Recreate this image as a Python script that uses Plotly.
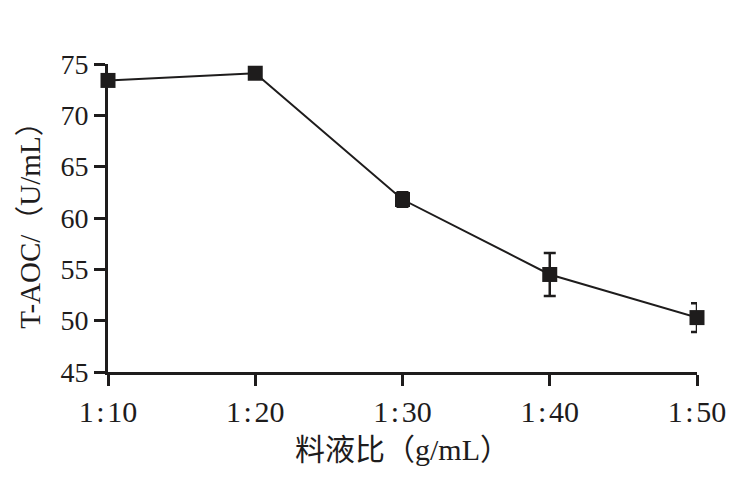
import plotly.graph_objects as go

ratios = [10, 20, 30, 40, 50]
tick_labels = ["1\u200a:\u200a10", "1\u200a:\u200a20", "1\u200a:\u200a30", "1\u200a:\u200a40", "1\u200a:\u200a50"]
taoc = [73.4, 74.1, 61.8, 54.5, 50.3]
err = [0.4, 0.3, 0.7, 2.1, 1.4]
y_ticks = [45, 50, 55, 60, 65, 70, 75]

ink = "#1e1c1c"
serif = "Liberation Serif"

fig = go.Figure()
fig.add_trace(go.Scatter(
    x=ratios, y=taoc,
    mode="lines+markers",
    line=dict(color=ink, width=2),
    marker=dict(symbol="square", size=15, color=ink),
    error_y=dict(type="data", array=err, visible=True, color=ink, thickness=2.5, width=6),
    cliponaxis=False,
    showlegend=False,
))

fig.update_layout(
    width=745, height=487,
    margin=dict(l=108, r=48, t=64, b=115),
    paper_bgcolor="white", plot_bgcolor="white",
    font=dict(family=serif, size=26, color=ink),
    xaxis=dict(
        range=[10, 50], tickvals=ratios, ticktext=tick_labels,
        showline=True, linecolor=ink, linewidth=3,
        ticks="outside", ticklen=11, tickwidth=3, tickcolor=ink,
        showgrid=False, zeroline=False,
        tickfont=dict(family=serif, size=30, color=ink),
        title=dict(text="料液比（g/mL）", standoff=12,
                   font=dict(family="Liberation Serif, Noto Sans CJK SC", size=30, color=ink)),
    ),
    yaxis=dict(
        range=[45, 75], tickvals=y_ticks,
        showline=True, linecolor=ink, linewidth=3,
        ticks="outside", ticklen=11, tickwidth=3, tickcolor=ink,
        showgrid=False, zeroline=False,
        tickfont=dict(family=serif, size=28, color=ink),
        title=dict(text="T-AOC/（U/mL）", standoff=12,
                   font=dict(family="Liberation Serif, Noto Sans CJK SC", size=29, color=ink)),
    ),
)
fig.write_html("out.html")
